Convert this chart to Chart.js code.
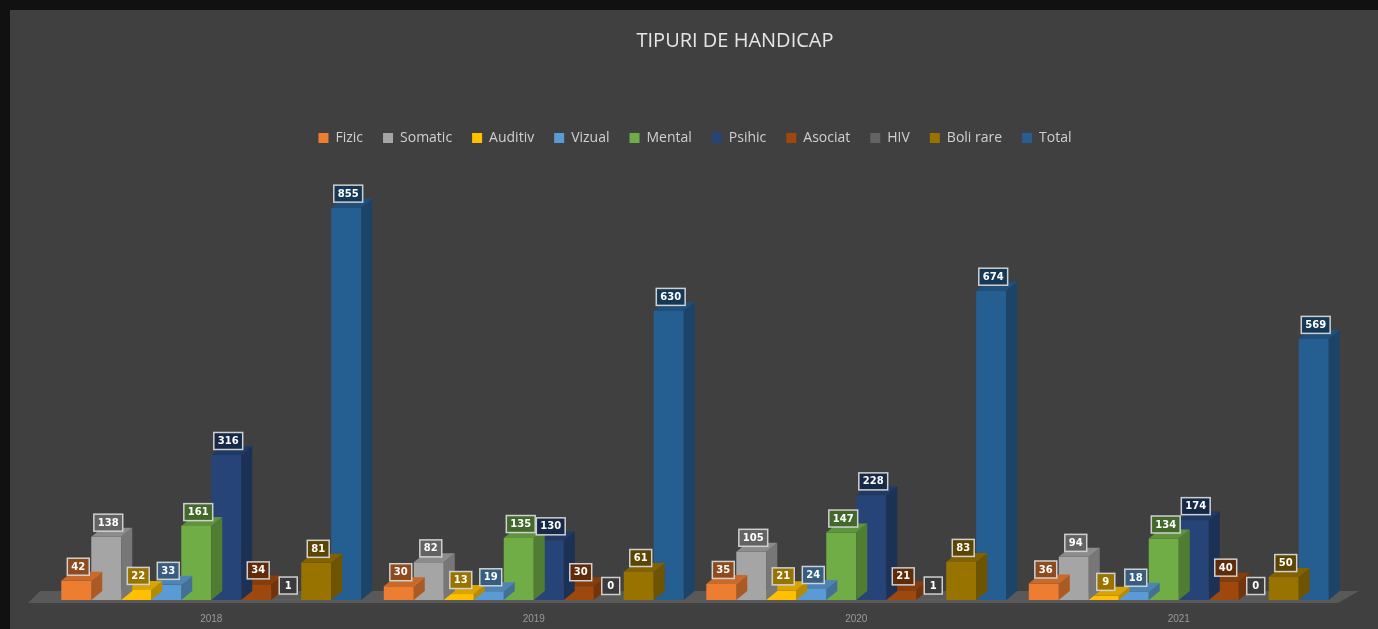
<!DOCTYPE html>
<html>
<head>
<meta charset="utf-8">
<script src="https://cdn.jsdelivr.net/npm/chart.js@4.4.1/dist/chart.umd.min.js"></script>
<style>
  html, body { margin: 0; padding: 0; background: #111; overflow: hidden; }
  #wrap { position: absolute; left: 10px; top: 10px; width: 1368px; height: 620px; background: #404040; }
</style>
</head>
<body>
<div id="wrap"><canvas id="myChart" width="1368" height="620"></canvas></div>
<script>
const chartTitle = 'TIPURI DE HANDICAP';
const years = ['2018', '2019', '2020', '2021'];
const seriesNames = ['Fizic', 'Somatic', 'Auditiv', 'Vizual', 'Mental', 'Psihic', 'Asociat', 'HIV', 'Boli rare', 'Total'];
const fizic = [42, 30, 35, 36];
const somatic = [138, 82, 105, 94];
const auditiv = [22, 13, 21, 9];
const vizual = [33, 19, 24, 18];
const mental = [161, 135, 147, 134];
const psihic = [316, 130, 228, 174];
const asociat = [34, 30, 21, 40];
const hiv = [1, 0, 1, 0];
const boliRare = [81, 61, 83, 50];
const total = [855, 630, 674, 569];
const colors = ['#ED7D31', '#A5A5A5', '#FFC000', '#5B9BD5', '#70AD47', '#264478', '#9E480E', '#636363', '#997300', '#255E91'];

const values = [fizic, somatic, auditiv, vizual, mental, psihic, asociat, hiv, boliRare, total];

function shade(hex, f) {
  const n = parseInt(hex.slice(1), 16);
  let r = (n >> 16) & 255, g = (n >> 8) & 255, b = n & 255;
  r = Math.round(r * f); g = Math.round(g * f); b = Math.round(b * f);
  return 'rgb(' + r + ',' + g + ',' + b + ')';
}

const DX = 11, DY = -9;

// title drawn a bit right of centre, like the original
const titleText = {
  id: 'titleText',
  afterDraw(chart) {
    const ctx = chart.ctx;
    ctx.save();
    ctx.font = '20px "Open Sans"';
    ctx.fillStyle = '#e6e6e6';
    ctx.textAlign = 'center';
    ctx.textBaseline = 'middle';
    ctx.fillText(chartTitle, 725, 31);
    ctx.restore();
  }
};

// extra room under the legend
const legendGap = {
  id: 'legendGap',
  beforeInit(chart) {
    const fit = chart.legend.fit;
    chart.legend.fit = function () {
      fit.bind(chart.legend)();
      this.height += 32;
    };
  }
};

// floor strip + 3d faces + boxed value labels
const bars3d = {
  id: 'bars3d',
  beforeDatasetsDraw(chart) {
    const ctx = chart.ctx, a = chart.chartArea;
    const base = chart.scales.y.getPixelForValue(0);
    ctx.save();
    ctx.fillStyle = '#595959';
    ctx.beginPath();
    ctx.moveTo(a.left - 22, base + 3);
    ctx.lineTo(a.right - 2, base + 3);
    ctx.lineTo(a.right + DX + 8, base + DY);
    ctx.lineTo(a.left - 10, base + DY);
    ctx.closePath();
    ctx.fill();
    ctx.restore();
  },
  afterDatasetDraw(chart, args) {
    const ctx = chart.ctx;
    const col = colors[args.index];
    ctx.save();
    args.meta.data.forEach(el => {
      const right = el.x + el.width / 2, left = el.x - el.width / 2;
      if (el.base - el.y < 0.5) return;
      ctx.fillStyle = shade(col, 0.72);
      ctx.beginPath();
      ctx.moveTo(right, el.y);
      ctx.lineTo(right + DX, el.y + DY);
      ctx.lineTo(right + DX, el.base + DY);
      ctx.lineTo(right, el.base);
      ctx.closePath();
      ctx.fill();
      ctx.fillStyle = shade(col, 0.85);
      ctx.beginPath();
      ctx.moveTo(left, el.y);
      ctx.lineTo(left + DX, el.y + DY);
      ctx.lineTo(right + DX, el.y + DY);
      ctx.lineTo(right, el.y);
      ctx.closePath();
      ctx.fill();
    });
    ctx.restore();
  },
  afterDatasetsDraw(chart) {
    const ctx = chart.ctx;
    ctx.save();
    ctx.font = 'bold 10px "DejaVu Sans"';
    ctx.textAlign = 'center';
    ctx.textBaseline = 'middle';
    chart.data.datasets.forEach((ds, i) => {
      const meta = chart.getDatasetMeta(i);
      meta.data.forEach((el, j) => {
        const txt = String(ds.data[j]);
        const w = Math.max(18, ctx.measureText(txt).width + 8), h = 17;
        const cx = el.x + 2, cy = el.y - 14;
        ctx.fillStyle = shade(colors[i], 0.6);
        ctx.fillRect(cx - w / 2, cy - h / 2, w, h);
        ctx.strokeStyle = '#d0d0d0';
        ctx.lineWidth = 1.5;
        ctx.strokeRect(cx - w / 2, cy - h / 2, w, h);
        ctx.fillStyle = '#ffffff';
        ctx.fillText(txt, cx, cy + 0.5);
      });
    });
    ctx.restore();
  }
};

const ctx = document.getElementById('myChart').getContext('2d');
const myChart = new Chart(ctx, {
  type: 'bar',
  data: {
    labels: years,
    datasets: seriesNames.map((name, i) => ({
      label: name,
      data: values[i],
      backgroundColor: colors[i],
      borderWidth: 0,
      categoryPercentage: 0.93,
      barPercentage: 1.0
    }))
  },
  options: {
    responsive: false,
    animation: false,
    layout: { padding: { left: 40, right: 38, top: 101, bottom: 0 } },
    plugins: {
      title: { display: false },
      legend: {
        labels: {
          color: '#d0d0d0',
          font: { family: 'Open Sans', size: 14 },
          boxWidth: 10,
          boxHeight: 10,
          padding: 20
        }
      },
      tooltip: { enabled: false }
    },
    scales: {
      x: {
        grid: { display: false },
        border: { display: false },
        ticks: { color: '#9a9a9a', font: { size: 10 }, padding: 5 }
      },
      y: { display: false, min: 0, max: 900 }
    }
  },
  plugins: [legendGap, bars3d, titleText]
});
</script>
</body>
</html>
